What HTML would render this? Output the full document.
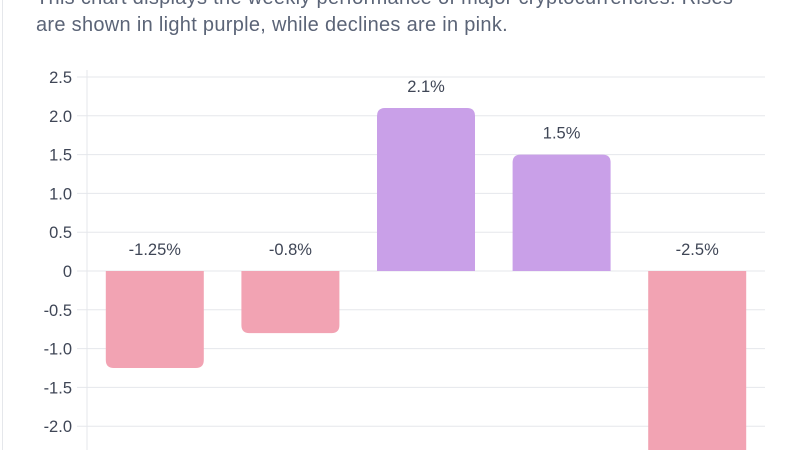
<!DOCTYPE html>
<html><head><meta charset="utf-8"><style>
body{margin:0;width:800px;height:450px;overflow:hidden;background:#fff;font-family:"Liberation Sans",sans-serif;}
#frame{position:absolute;left:2px;top:0;width:1px;height:450px;background:#e5e7eb;}
#desc{position:absolute;left:36px;top:-15px;width:780px;font-size:20px;letter-spacing:0.3px;line-height:27px;color:#5b6477;margin:0;white-space:nowrap;}
svg{position:absolute;left:0;top:0;}
</style></head><body>
<div id="frame"></div>
<p id="desc">This chart displays the weekly performance of major cryptocurrencies. Rises<br>are shown in light purple, while declines are in pink.</p>
<svg id="chart" width="800" height="450"></svg>
<script>
const categories=["Coin A","Coin B","Coin C","Coin D","Coin E"];
const values=[-1.25,-0.8,2.1,1.5,-2.5];
const valueLabels=["-1.25%","-0.8%","2.1%","1.5%","-2.5%"];
const ticks=[2.5,2.0,1.5,1.0,0.5,0,-0.5,-1.0,-1.5,-2.0];
const tickLabels=["2.5","2.0","1.5","1.0","0.5","0","-0.5","-1.0","-1.5","-2.0"];
const NS="http://www.w3.org/2000/svg";
const svg=document.getElementById('chart');
const x0=87,x1=765,y0=271,ppu=77.6;
const y=v=>y0-v*ppu;
const band=(x1-x0)/categories.length;
const xc=i=>x0+band*(i+0.5);
function mk(t,a){const e=document.createElementNS(NS,t);for(const k in a)e.setAttribute(k,a[k]);svg.appendChild(e);return e;}
ticks.forEach((t,i)=>{
 const l=mk('line',{x1:77,x2:x1,y1:y(t),y2:y(t),stroke:'#e5e7eb','stroke-width':1});
 
 
 const tx=mk('text',{x:72,y:y(t)+6,'text-anchor':'end','font-size':16.5,fill:'#3f4656'});
 tx.textContent=tickLabels[i];
 
 
});
const ax=mk('line',{x1:x0,x2:x0,y1:70,y2:450,stroke:'#e5e7eb','stroke-width':1});


const bw=98,r=8;
values.forEach((v,i)=>{
 const cx=xc(i),l=cx-bw/2,rr=l+bw,ys=y(0),ye=y(v);
 let d;
 if(v>=0) d=`M${l},${ys}L${l},${ye+r}Q${l},${ye} ${l+r},${ye}L${rr-r},${ye}Q${rr},${ye} ${rr},${ye+r}L${rr},${ys}Z`;
 else d=`M${l},${ys}L${l},${ye-r}Q${l},${ye} ${l+r},${ye}L${rr-r},${ye}Q${rr},${ye} ${rr},${ye-r}L${rr},${ys}Z`;
 const p=mk('path',{d:d,fill:v>=0?'#c9a0e8':'#f2a3b3'});
 
 
 const ly=v>=0?ye-16:ys-16;
 const t=mk('text',{x:cx,y:ly,'text-anchor':'middle','font-size':16.5,fill:'#3f4656'});
 t.textContent=valueLabels[i];
 
 
});
</script>
</body></html>
